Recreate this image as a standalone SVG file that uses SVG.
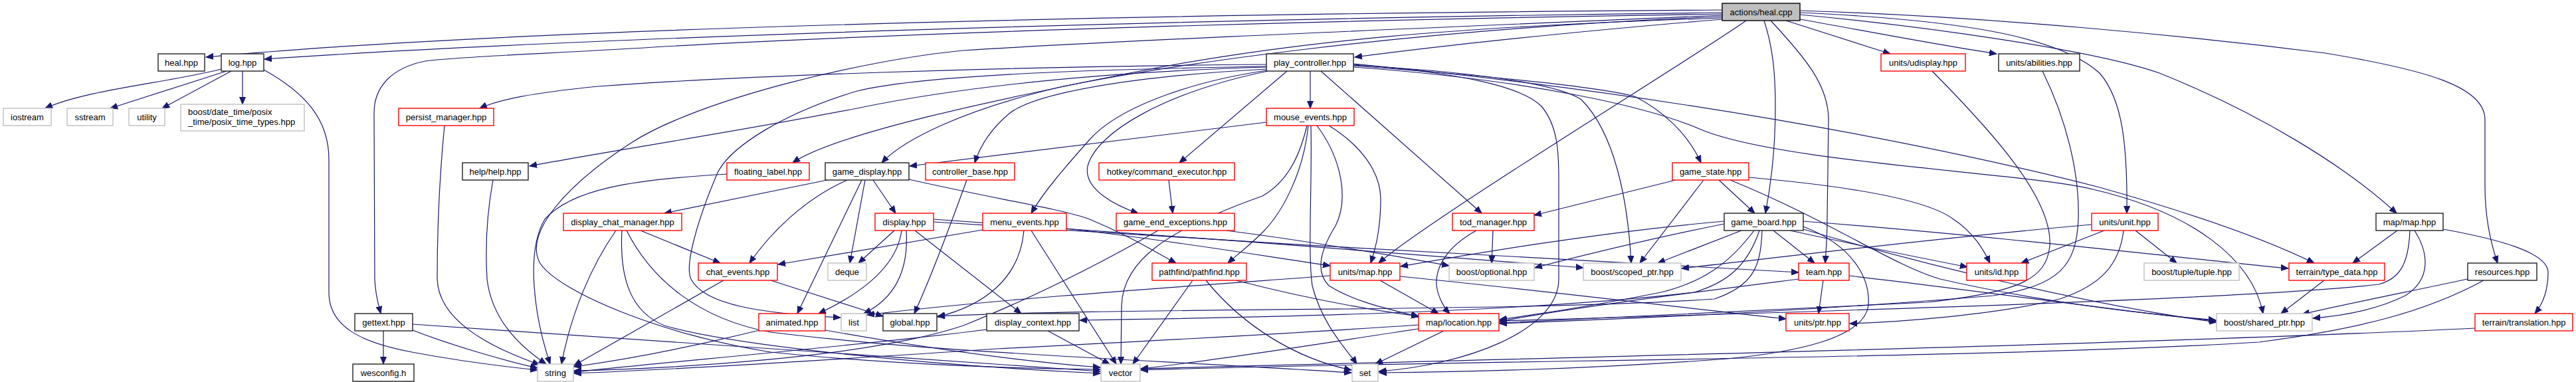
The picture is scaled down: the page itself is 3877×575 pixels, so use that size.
<svg xmlns="http://www.w3.org/2000/svg" width="3877" height="575" viewBox="0 0 3877 575">
<defs>
<style>
text{font-family:"Liberation Sans",Arial,sans-serif;font-size:13px;fill:#000;text-anchor:middle}
.b{fill:#fff;stroke:#202020;stroke-width:1.4}
.r{fill:#fff;stroke:#ff0000;stroke-width:1.4}
.g{fill:#fff;stroke:#bfbfbf;stroke-width:1.4}
.root{fill:#bfbfbf;stroke:#000;stroke-width:1.4}
.e path{fill:none;stroke:#191970;stroke-width:1.2;marker-end:url(#a)}
</style>
<marker id="a" markerUnits="userSpaceOnUse" markerWidth="12" markerHeight="10" viewBox="0 0 12 10" refX="11" refY="5" orient="auto">
<path d="M0,0.5 L11,5 L0,9.5 z" fill="#191970" stroke="#191970" stroke-width="1"/>
</marker>
</defs>
<rect width="3877" height="575" fill="#fff"/>
<g id="edges" class="e">
<path d="M2592,15 C1800,20 800,40 310,86"/>
<path d="M2592,19 C1800,28 900,55 398,89"/>
<path d="M2592,21 C2000,30 1400,48 1000,70 C850,80 700,84 640,92 C590,102 563,130 563,170 L564,420 C565,445 570,460 573,472"/>
<path d="M2592,27 C2200,40 1950,60 1700,110 C1500,150 1260,200 1193,245"/>
<path d="M2592,23 C2200,40 1700,60 1450,76 C1300,90 1050,150 950,215 C850,280 790,350 812,395 C840,440 1000,505 1160,530 C1350,550 1550,555 1656,556"/>
<path d="M2592,25 C2100,45 1750,100 1600,130 C1450,165 1360,210 1327,245"/>
<path d="M2592,29 C2400,45 2200,65 2039,86"/>
<path d="M2628,31 C2560,80 2150,330 2075,396"/>
<path d="M2655,31 C2668,70 2672,110 2672,160 C2672,230 2665,280 2657,321"/>
<path d="M2665,31 C2720,90 2752,130 2752,180 L2750,330 C2750,360 2748,380 2747,396"/>
<path d="M2688,31 L2845,81"/>
<path d="M2709,29 C2800,45 2900,65 3005,81"/>
<path d="M2709,19 C2950,30 3100,55 3160,110 C3195,150 3202,220 3201,321"/>
<path d="M2709,22 C2900,40 3150,75 3250,110 C3400,170 3530,250 3607,321"/>
<path d="M2709,16 C3000,25 3300,55 3500,80 C3650,105 3740,130 3740,180 L3740,280 C3740,330 3750,370 3759,396"/>
<path d="M333,104 C250,125 130,135 68,163"/>
<path d="M341,107 L166,163"/>
<path d="M348,107 L244,163"/>
<path d="M365,107 L365,157"/>
<path d="M397,105 C460,140 495,180 495,240 L495,440 C495,490 540,515 620,530 C700,545 760,552 809,557"/>
<path d="M577,498 L577,548"/>
<path d="M621,497 C680,520 760,543 809,554"/>
<path d="M621,488 C900,505 1300,535 1656,559"/>
<path d="M1906,97 C1500,100 1100,115 900,130 C800,140 750,150 722,163"/>
<path d="M1906,101 C1600,110 1400,140 1290,163 C1100,200 900,230 797,250"/>
<path d="M1906,100 C1600,105 1380,115 1290,137 C1180,170 1100,220 1080,260 C1050,330 1030,400 1040,420 C1060,460 1150,472 1265,478"/>
<path d="M1906,104 C1700,115 1560,140 1520,170 C1490,195 1475,220 1467,245"/>
<path d="M1972,107 L1972,163"/>
<path d="M1906,106 C1780,125 1680,165 1640,210 C1600,255 1570,290 1552,321"/>
<path d="M1937,107 L1775,245"/>
<path d="M1908,107 C1750,140 1650,200 1637,250 C1630,285 1680,310 1713,321"/>
<path d="M1988,107 L2230,321"/>
<path d="M2037,99 C2250,115 2400,130 2460,145 C2500,165 2540,200 2560,245"/>
<path d="M2037,98 C2250,110 2350,130 2380,150 C2430,200 2450,300 2455,396"/>
<path d="M2037,97 C2200,110 2290,130 2320,160 C2345,190 2346,230 2346,270 L2346,420 C2346,500 2200,550 2075,559"/>
<path d="M2037,96 C2500,140 2900,215 3160,282 C3330,330 3430,370 3483,396"/>
<path d="M2037,101 C2300,120 2480,160 2560,195 C2680,245 3050,260 3150,285 C3300,320 3390,390 3406,472"/>
<path d="M1906,184 L1369,250"/>
<path d="M1967,189 C1955,240 1935,275 1900,295 C1760,345 1690,390 1688,460 L1687,548"/>
<path d="M1969,189 C1962,260 1930,320 1900,350 C1880,370 1860,385 1848,396"/>
<path d="M1973,189 C1975,280 1968,380 1975,430 C1990,490 2030,530 2042,548"/>
<path d="M1982,189 C2020,240 2030,300 2010,340 C1985,380 1980,410 2000,430 C2040,455 2090,465 2136,477"/>
<path d="M2000,189 C2050,220 2078,260 2078,300 C2078,350 2068,380 2063,396"/>
<path d="M1245,271 L1000,321"/>
<path d="M1275,271 C1210,300 1160,350 1128,396"/>
<path d="M1297,271 L1200,472"/>
<path d="M1302,271 L1279,396"/>
<path d="M1314,271 L1348,321"/>
<path d="M1368,270 C1500,300 1600,315 1640,330 C1700,355 1740,380 1770,396"/>
<path d="M1455,271 C1430,340 1400,420 1376,472"/>
<path d="M1759,271 L1765,321"/>
<path d="M2522,271 L2309,324"/>
<path d="M2564,271 L2468,396"/>
<path d="M2587,271 L2641,321"/>
<path d="M2632,267 C2780,280 2900,300 2940,330 C2970,350 2985,375 2995,396"/>
<path d="M2604,271 C2750,330 2850,400 2920,420 C3050,450 3200,470 3335,482"/>
<path d="M964,347 L1084,396"/>
<path d="M927,347 C890,400 860,470 845,548"/>
<path d="M936,347 C932,420 950,470 1000,490 C1100,520 1400,550 1656,562"/>
<path d="M943,347 C980,420 1050,480 1160,500 C1400,530 1700,540 2034,561"/>
<path d="M1346,347 L1292,396"/>
<path d="M1357,347 C1350,400 1300,440 1232,472"/>
<path d="M1364,347 C1368,410 1345,450 1300,472"/>
<path d="M1377,347 L1537,472"/>
<path d="M1405,330 C1700,350 2100,380 2383,403"/>
<path d="M1405,334 C1800,360 2400,395 2707,410"/>
<path d="M1479,346 L1171,398"/>
<path d="M1605,344 C1750,360 1900,385 2002,400"/>
<path d="M1541,347 C1535,420 1480,460 1411,477"/>
<path d="M1552,347 L1680,548"/>
<path d="M1743,347 C1650,400 1550,450 1450,490 C1300,540 1000,555 864,558"/>
<path d="M1845,347 C1950,360 2100,385 2181,400"/>
<path d="M2247,347 L2245,396"/>
<path d="M2222,347 C2180,370 2160,400 2162,430 C2165,450 2175,465 2182,472"/>
<path d="M2595,333 C2400,350 2200,385 2108,401"/>
<path d="M2595,337 C2480,360 2380,385 2310,403"/>
<path d="M2621,347 L2495,396"/>
<path d="M2640,347 C2600,400 2560,425 2500,440 C2400,460 2300,475 2257,481"/>
<path d="M2648,347 C2630,400 2600,425 2550,440 C2300,470 1900,478 1625,482"/>
<path d="M2652,347 C2650,400 2640,430 2580,450 C2300,470 1700,462 1411,476"/>
<path d="M2669,347 L2731,396"/>
<path d="M2694,347 C2800,370 2900,390 2961,402"/>
<path d="M2714,333 C3000,355 3300,390 3444,404"/>
<path d="M2714,341 C2790,370 2815,420 2812,460 C2805,510 2700,530 2600,540 C2400,555 2200,560 2076,561"/>
<path d="M2714,345 C2900,400 3150,460 3336,485"/>
<path d="M2744,422 L2737,472"/>
<path d="M2783,415 C3000,440 3200,470 3336,483"/>
<path d="M2707,420 C2550,440 2350,465 2257,484"/>
<path d="M2077,422 L2165,472"/>
<path d="M2002,415 C1800,430 1500,450 1305,474"/>
<path d="M2107,416 C2300,435 2550,465 2688,480"/>
<path d="M3167,347 L3042,396"/>
<path d="M3214,347 L3276,396"/>
<path d="M3196,347 C3190,400 3160,430 3100,450 C3000,475 2850,485 2784,487"/>
<path d="M3148,338 C2900,360 2700,385 2531,404"/>
<path d="M2908,107 C3000,200 3090,300 3085,370 C3080,420 3040,440 2900,455 C2600,470 2400,480 2257,486"/>
<path d="M3074,107 C3110,180 3130,260 3128,330 C3125,400 3100,430 3000,445 C2700,470 2400,482 2257,487"/>
<path d="M3608,347 L3541,396"/>
<path d="M3634,347 C3655,380 3660,420 3620,445 C3580,465 3530,475 3481,479"/>
<path d="M3677,345 C3760,360 3835,380 3835,410 C3835,440 3825,460 3815,472"/>
<path d="M3627,347 C3625,400 3610,420 3580,428 C3400,450 2700,470 2257,483"/>
<path d="M3498,422 L3433,472"/>
<path d="M3714,420 C3620,440 3520,460 3465,473"/>
<path d="M3738,422 C3650,470 3550,495 3400,515 C3000,540 2200,542 1717,557"/>
<path d="M3725,494 C3300,515 2500,535 1717,555"/>
<path d="M1160,422 L1329,476"/>
<path d="M1089,422 L864,550"/>
<path d="M1143,497 C1050,520 950,540 864,552"/>
<path d="M1242,497 C1400,525 1550,545 1656,553"/>
<path d="M1577,498 L1670,548"/>
<path d="M1485,496 C1300,520 1000,545 864,560"/>
<path d="M2173,498 L2070,548"/>
<path d="M2135,495 C2000,515 1850,540 1717,555"/>
<path d="M2135,489 C1900,505 1700,515 1500,525 C1200,545 1000,557 864,562"/>
<path d="M1795,422 L1705,548"/>
<path d="M1815,422 C1870,490 1950,540 2034,557"/>
<path d="M1860,422 C1950,445 2050,465 2135,476"/>
<path d="M669,189 C663,250 658,320 658,420 C660,480 730,520 812,549"/>
<path d="M742,271 C733,320 730,370 733,420 C740,480 780,520 822,548"/>
<path d="M1095,262 C950,270 860,285 820,330 C790,380 805,480 828,548"/>
</g>
<g id="node-heal_cpp"><rect class="root" x="2592" y="5" width="117" height="26"/><text x="2650.5" y="23">actions/heal.cpp</text></g>
<g id="node-heal_hpp"><rect class="b" x="238" y="81" width="70" height="26"/><text x="273" y="99">heal.hpp</text></g>
<g id="node-log_hpp"><rect class="b" x="333" y="81" width="64" height="26"/><text x="365" y="99">log.hpp</text></g>
<g id="node-play_controller"><rect class="b" x="1906" y="81" width="131" height="26"/><text x="1971.5" y="99">play_controller.hpp</text></g>
<g id="node-udisplay"><rect class="r" x="2831" y="81" width="127" height="26"/><text x="2894.5" y="99">units/udisplay.hpp</text></g>
<g id="node-abilities"><rect class="b" x="3008" y="81" width="122" height="26"/><text x="3069" y="99">units/abilities.hpp</text></g>
<g id="node-iostream"><rect class="g" x="5" y="163" width="72" height="26"/><text x="41" y="181">iostream</text></g>
<g id="node-sstream"><rect class="g" x="101" y="163" width="69" height="26"/><text x="135.5" y="181">sstream</text></g>
<g id="node-utility"><rect class="g" x="194" y="163" width="54" height="26"/><text x="221" y="181">utility</text></g>
<g id="node-date_time"><rect class="g" x="272" y="157" width="186" height="40"/><text x="283" y="173" style="text-anchor:start">boost/date_time/posix</text><text x="283" y="188" style="text-anchor:start">_time/posix_time_types.hpp</text></g>
<g id="node-persist"><rect class="r" x="600" y="163" width="143" height="26"/><text x="671.5" y="181">persist_manager.hpp</text></g>
<g id="node-mouse_events"><rect class="r" x="1906" y="163" width="132" height="26"/><text x="1972" y="181">mouse_events.hpp</text></g>
<g id="node-help"><rect class="b" x="696" y="245" width="99" height="26"/><text x="745.5" y="263">help/help.hpp</text></g>
<g id="node-floating_label"><rect class="r" x="1094" y="245" width="124" height="26"/><text x="1156" y="263">floating_label.hpp</text></g>
<g id="node-game_display"><rect class="b" x="1242" y="245" width="126" height="26"/><text x="1305" y="263">game_display.hpp</text></g>
<g id="node-controller_base"><rect class="r" x="1393" y="245" width="134" height="26"/><text x="1460" y="263">controller_base.hpp</text></g>
<g id="node-hotkey"><rect class="r" x="1654" y="245" width="204" height="26"/><text x="1756" y="263">hotkey/command_executor.hpp</text></g>
<g id="node-game_state"><rect class="r" x="2517" y="245" width="115" height="26"/><text x="2574.5" y="263">game_state.hpp</text></g>
<g id="node-display_chat_manager"><rect class="r" x="848" y="321" width="178" height="26"/><text x="937" y="339">display_chat_manager.hpp</text></g>
<g id="node-display"><rect class="r" x="1317" y="321" width="88" height="26"/><text x="1361" y="339">display.hpp</text></g>
<g id="node-menu_events"><rect class="r" x="1479" y="321" width="126" height="26"/><text x="1542" y="339">menu_events.hpp</text></g>
<g id="node-game_end"><rect class="r" x="1680" y="321" width="178" height="26"/><text x="1769" y="339">game_end_exceptions.hpp</text></g>
<g id="node-tod_manager"><rect class="r" x="2186" y="321" width="123" height="26"/><text x="2247.5" y="339">tod_manager.hpp</text></g>
<g id="node-game_board"><rect class="b" x="2595" y="321" width="119" height="26"/><text x="2654.5" y="339">game_board.hpp</text></g>
<g id="node-unit"><rect class="r" x="3148" y="321" width="100" height="26"/><text x="3198" y="339">units/unit.hpp</text></g>
<g id="node-map_map"><rect class="b" x="3576" y="321" width="101" height="26"/><text x="3626.5" y="339">map/map.hpp</text></g>
<g id="node-chat_events"><rect class="r" x="1051" y="396" width="119" height="26"/><text x="1110.5" y="414">chat_events.hpp</text></g>
<g id="node-deque"><rect class="g" x="1246" y="396" width="58" height="26"/><text x="1275" y="414">deque</text></g>
<g id="node-pathfind"><rect class="r" x="1734" y="396" width="142" height="26"/><text x="1805" y="414">pathfind/pathfind.hpp</text></g>
<g id="node-units_map"><rect class="r" x="2002" y="396" width="105" height="26"/><text x="2054.5" y="414">units/map.hpp</text></g>
<g id="node-optional"><rect class="g" x="2181" y="396" width="128" height="26"/><text x="2245" y="414">boost/optional.hpp</text></g>
<g id="node-scoped_ptr"><rect class="g" x="2383" y="396" width="147" height="26"/><text x="2456.5" y="414">boost/scoped_ptr.hpp</text></g>
<g id="node-team"><rect class="r" x="2707" y="396" width="76" height="26"/><text x="2745" y="414">team.hpp</text></g>
<g id="node-units_id"><rect class="r" x="2960" y="396" width="90" height="26"/><text x="3005" y="414">units/id.hpp</text></g>
<g id="node-tuple"><rect class="g" x="3227" y="396" width="143" height="26"/><text x="3298.5" y="414">boost/tuple/tuple.hpp</text></g>
<g id="node-type_data"><rect class="r" x="3445" y="396" width="144" height="26"/><text x="3517" y="414">terrain/type_data.hpp</text></g>
<g id="node-resources"><rect class="b" x="3714" y="396" width="104" height="26"/><text x="3766" y="414">resources.hpp</text></g>
<g id="node-gettext"><rect class="b" x="534" y="472" width="87" height="26"/><text x="577.5" y="490">gettext.hpp</text></g>
<g id="node-animated"><rect class="r" x="1142" y="472" width="100" height="26"/><text x="1192" y="490">animated.hpp</text></g>
<g id="node-list"><rect class="g" x="1266" y="472" width="38" height="26"/><text x="1285" y="490">list</text></g>
<g id="node-global"><rect class="b" x="1329" y="472" width="81" height="26"/><text x="1369.5" y="490">global.hpp</text></g>
<g id="node-display_context"><rect class="b" x="1485" y="472" width="139" height="26"/><text x="1554.5" y="490">display_context.hpp</text></g>
<g id="node-location"><rect class="r" x="2135" y="472" width="121" height="26"/><text x="2195.5" y="490">map/location.hpp</text></g>
<g id="node-units_ptr"><rect class="r" x="2688" y="472" width="95" height="26"/><text x="2735.5" y="490">units/ptr.hpp</text></g>
<g id="node-shared_ptr"><rect class="g" x="3336" y="472" width="144" height="26"/><text x="3408" y="490">boost/shared_ptr.hpp</text></g>
<g id="node-translation"><rect class="r" x="3725" y="472" width="147" height="26"/><text x="3798.5" y="490">terrain/translation.hpp</text></g>
<g id="node-wesconfig"><rect class="b" x="531" y="548" width="92" height="26"/><text x="577" y="566">wesconfig.h</text></g>
<g id="node-string"><rect class="g" x="809" y="548" width="54" height="26"/><text x="836" y="566">string</text></g>
<g id="node-vector"><rect class="g" x="1657" y="548" width="59" height="26"/><text x="1686.5" y="566">vector</text></g>
<g id="node-set"><rect class="g" x="2035" y="548" width="39" height="26"/><text x="2054.5" y="566">set</text></g>
</svg>
